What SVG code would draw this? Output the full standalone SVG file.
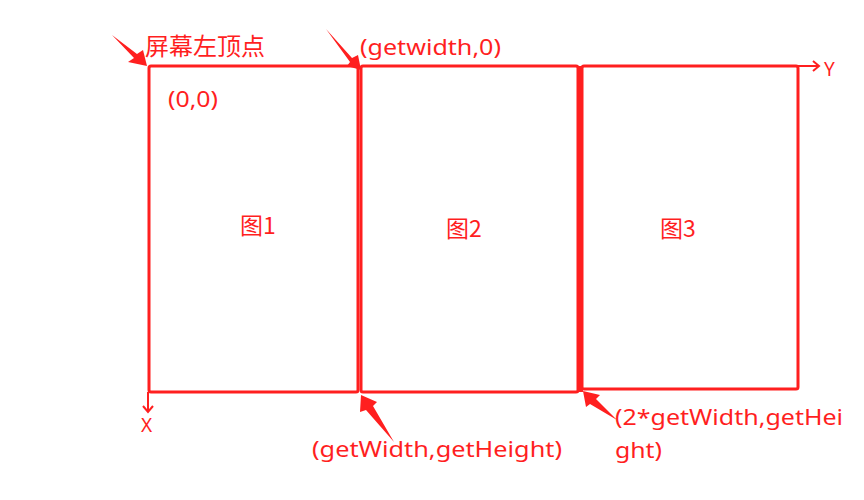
<svg xmlns="http://www.w3.org/2000/svg" width="864" height="500" viewBox="0 0 864 500">
<style>
.box{fill:none;stroke:#ff1f1f;stroke-width:3;stroke-linejoin:round}
.ax{fill:none;stroke:#ff1f1f;stroke-width:2}
.wedge{fill:#ff1f1f;stroke:none}
text{fill:#ff1f1f;font-family:"Noto Sans","Noto Sans CJK SC",sans-serif;font-size:21px}
.cn{font-family:"Noto Sans CJK SC",sans-serif;font-size:23px}
.ttl{font-size:24px}
.axl{font-size:19px}
</style>
<rect width="864" height="500" fill="#fff"/>
<g id="pic1"><rect class="box" x="149" y="66" width="209" height="326" rx="2"/><text class="cn" x="240" y="234">图1</text></g>
<g id="pic2"><rect class="box" x="361" y="66" width="217" height="326" rx="2"/><text class="cn" x="446" y="237">图2</text></g>
<g id="pic3"><rect class="box" x="582" y="66" width="216" height="323" rx="2"/><line x1="581" y1="66" x2="581" y2="392" stroke="#ff1f1f" stroke-width="4"/><text class="cn" x="660" y="237">图3</text></g>
<g id="axes">
<line class="ax" x1="798" y1="66" x2="819" y2="66"/><polyline class="ax" points="813,61 819,66 813,71"/>
<text class="axl" x="824" y="76">Y</text>
<line class="ax" x1="148" y1="392" x2="148" y2="412"/><polyline class="ax" points="143,406 148,412 153,406"/>
<text class="axl" x="141" y="432">X</text>
</g>
<g id="connectors">
<polygon class="wedge" points="112,35 137,54 143,50 147,66 128,62 134,58"/>
<polygon class="wedge" points="326,29 352,58 358,55 361,70 347,66 350,62"/>
<polygon class="wedge" points="361,395 377,402 373,406 394,442 366,410 360,412"/>
<polygon class="wedge" points="583,391 600,395 596,399 617,420 590,404 586,407"/>
</g>
<g id="labels">
<text class="cn ttl" x="145" y="55">屏幕左顶点</text>
<text x="168" y="107" textLength="50" lengthAdjust="spacingAndGlyphs">(0,0)</text>
<text x="360" y="55" textLength="141" lengthAdjust="spacingAndGlyphs">(getwidth,0)</text>
<text x="312" y="457" textLength="250" lengthAdjust="spacingAndGlyphs">(getWidth,getHeight)</text>
<text x="615" y="425" textLength="228" lengthAdjust="spacingAndGlyphs">(2*getWidth,getHei</text>
<text x="615" y="458" textLength="47" lengthAdjust="spacingAndGlyphs">ght)</text>
</g>
</svg>
